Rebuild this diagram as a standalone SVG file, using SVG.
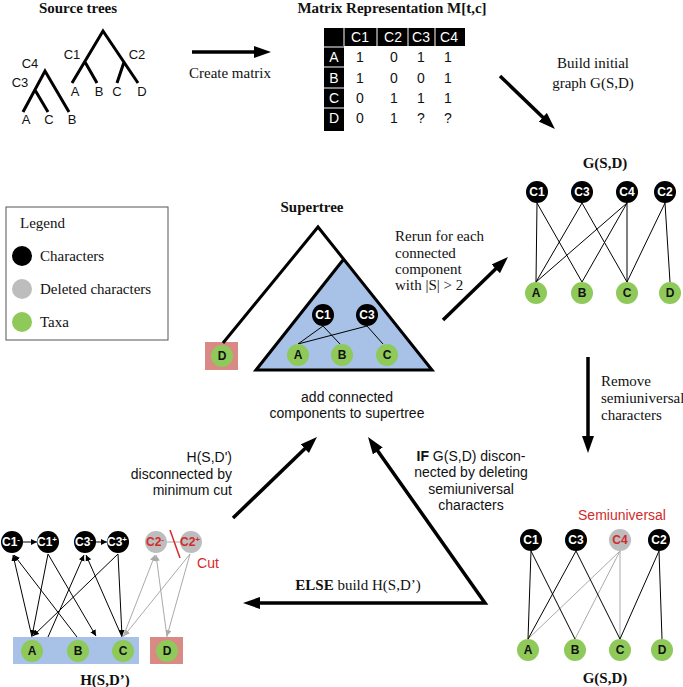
<svg xmlns="http://www.w3.org/2000/svg" width="683" height="687" viewBox="0 0 683 687">
<defs>
<marker id="big" markerUnits="userSpaceOnUse" markerWidth="18" markerHeight="13" refX="8" refY="6" orient="auto-start-reverse"><path d="M0,0 L17,6 L0,12 z" fill="#000"/></marker>
<marker id="sm" markerUnits="userSpaceOnUse" markerWidth="7" markerHeight="7" refX="6" refY="3" orient="auto"><path d="M0,0 L6,3 L0,6 z" fill="#000"/></marker>
<marker id="smg" markerUnits="userSpaceOnUse" markerWidth="7" markerHeight="7" refX="6" refY="3" orient="auto"><path d="M0,0 L6,3 L0,6 z" fill="#aaa"/></marker>
</defs>
<style>
.serif{font-family:"Liberation Serif","Times New Roman",serif;font-size:15px;fill:#111}
.bt{font-family:"Liberation Serif","Times New Roman",serif;font-size:15px;font-weight:bold;fill:#111}
.sans{font-family:"Liberation Sans",Arial,sans-serif;font-size:14px;fill:#111}
.leaf{font-family:"Liberation Sans",Arial,sans-serif;font-size:13px;fill:#111}
.mt{font-family:"Liberation Sans",Arial,sans-serif;font-size:14px;fill:#111;text-anchor:middle}
.mh{font-family:"Liberation Sans",Arial,sans-serif;font-size:14px;fill:#fff;text-anchor:middle}
.red{fill:#d22b2b}
.tree{stroke:#000;stroke-width:3;fill:none}
.arrow{stroke:#000;stroke-width:3.5;fill:none;marker-end:url(#big)}
.ch{fill:#000}
.del{fill:#bdbdbd}
.tx{fill:#8fc95a}
.nl{font-family:"Liberation Sans",Arial,sans-serif;font-size:12px;font-weight:bold;text-anchor:middle;fill:#fff}
.tl{font-family:"Liberation Sans",Arial,sans-serif;font-size:12px;font-weight:bold;text-anchor:middle;fill:#111}
.e{stroke:#000;stroke-width:1;fill:none}
.eg{stroke:#aaa;stroke-width:1;fill:none}
.ea{stroke:#000;stroke-width:1;fill:none;marker-end:url(#sm)}
.eag{stroke:#aaa;stroke-width:1;fill:none;marker-end:url(#smg)}
.blue{fill:#a7c1e7}
.pink{fill:#d98a84}
</style>

<!-- Source trees -->
<g id="source-trees">
<text class="bt" x="78" y="13" text-anchor="middle">Source trees</text>
<path class="tree" d="M23,112 L45,71 L69,112 M35,90 L48,112"/>
<path class="tree" d="M72,83 L103,31 L138,83 M85,62 L97,83 M124,62 L117,83"/>
<text class="leaf" x="30" y="68" text-anchor="middle">C4</text>
<text class="leaf" x="20" y="87" text-anchor="middle">C3</text>
<text class="leaf" x="26" y="124" text-anchor="middle">A</text>
<text class="leaf" x="49" y="124" text-anchor="middle">C</text>
<text class="leaf" x="72" y="124" text-anchor="middle">B</text>
<text class="leaf" x="72" y="59" text-anchor="middle">C1</text>
<text class="leaf" x="137" y="59" text-anchor="middle">C2</text>
<text class="leaf" x="75" y="96" text-anchor="middle">A</text>
<text class="leaf" x="99" y="96" text-anchor="middle">B</text>
<text class="leaf" x="117" y="96" text-anchor="middle">C</text>
<text class="leaf" x="142" y="96" text-anchor="middle">D</text>
</g>

<!-- Matrix -->
<g id="matrix">
<text class="bt" x="392" y="13" text-anchor="middle">Matrix Representation M[t,c]</text>
<rect x="324" y="28" width="141" height="18" fill="#000"/>
<rect x="324" y="28" width="20" height="103" fill="#000"/>
<path d="M344,28 V46 M377,28 V46 M408,28 V46 M435,28 V46 M324,47 H344 M324,67 H344 M324,88 H344 M324,108 H344" stroke="#fff" stroke-width="1"/>
<text class="mh" x="360" y="42">C1</text>
<text class="mh" x="393" y="42">C2</text>
<text class="mh" x="421" y="42">C3</text>
<text class="mh" x="449" y="42">C4</text>
<text class="mh" x="334" y="62">A</text>
<text class="mh" x="334" y="83">B</text>
<text class="mh" x="334" y="103">C</text>
<text class="mh" x="334" y="123">D</text>
<text class="mt" x="360" y="62">1</text><text class="mt" x="394" y="62">0</text><text class="mt" x="421" y="62">1</text><text class="mt" x="448" y="62">1</text>
<text class="mt" x="360" y="83">1</text><text class="mt" x="394" y="83">0</text><text class="mt" x="421" y="83">0</text><text class="mt" x="448" y="83">1</text>
<text class="mt" x="360" y="103">0</text><text class="mt" x="394" y="103">1</text><text class="mt" x="421" y="103">1</text><text class="mt" x="448" y="103">1</text>
<text class="mt" x="360" y="123">0</text><text class="mt" x="394" y="123">1</text><text class="mt" x="421" y="123">?</text><text class="mt" x="448" y="123">?</text>
</g>

<!-- Legend -->
<g id="legend">
<rect x="6" y="207" width="162" height="133" fill="#fff" stroke="#555" stroke-width="1"/>
<text class="serif" x="20" y="228">Legend</text>
<circle cx="22" cy="256" r="10" class="ch"/>
<text class="serif" x="40" y="261">Characters</text>
<circle cx="22" cy="289" r="10" class="del"/>
<text class="serif" x="40" y="294">Deleted characters</text>
<circle cx="22" cy="322" r="10" class="tx"/>
<text class="serif" x="40" y="327">Taxa</text>
</g>

<!-- Connectors (main arrows) -->
<g id="connectors">
<path class="arrow" d="M192,52 L262,52"/>
<path class="arrow" d="M500,76 L548.5,122.8"/>
<path class="arrow" d="M443,320 L501.5,263.3"/>
<path class="arrow" d="M588,357 L588,444"/>
<path class="arrow" d="M233,518 L310.5,443.2"/>
<path class="arrow" d="M373.2,444.4 L485,603 L252,603" style="marker-start:url(#big)" stroke-linejoin="miter"/>
</g>

<!-- Arrow labels -->
<g id="labels">
<text class="serif" x="230" y="78" text-anchor="middle">Create matrix</text>
<text class="serif" x="593" y="68" text-anchor="middle">Build initial</text>
<text class="serif" x="593" y="88" text-anchor="middle">graph G(S,D)</text>
<text class="serif" x="395" y="241">Rerun for each</text>
<text class="serif" x="395" y="258">connected</text>
<text class="serif" x="395" y="274">component</text>
<text class="serif" x="395" y="290">with |S| &gt; 2</text>
<text class="serif" x="601" y="386" font-size="14">Remove</text>
<text class="serif" x="601" y="403" font-size="14">semiuniversal</text>
<text class="serif" x="601" y="420" font-size="14">characters</text>
<text class="sans" x="347" y="402" text-anchor="middle">add connected</text>
<text class="sans" x="347" y="418" text-anchor="middle">components to supertree</text>
<text class="sans" x="471" y="461" text-anchor="middle"><tspan font-weight="bold">IF</tspan> G(S,D) discon-</text>
<text class="sans" x="471" y="477" text-anchor="middle">nected by deleting</text>
<text class="sans" x="471" y="494" text-anchor="middle">semiuniversal</text>
<text class="sans" x="471" y="510" text-anchor="middle">characters</text>
<text class="sans" x="232" y="462" text-anchor="end">H(S,D')</text>
<text class="sans" x="232" y="479" text-anchor="end">disconnected by</text>
<text class="sans" x="232" y="495" text-anchor="end">minimum cut</text>
<text class="serif" x="358" y="590" text-anchor="middle"><tspan font-weight="bold">ELSE</tspan> build H(S,D’)</text>
</g>

<!-- G(S,D) top -->
<g id="graph-top">
<text class="bt" x="605" y="168" text-anchor="middle">G(S,D)</text>
<path class="e" d="M537,203 L536,282 M537,203 L582,282 M582,203 L536,282 M582,203 L627,282 M627,203 L536,282 M627,203 L582,282 M627,203 L627,282 M665,203 L627,282 M665,203 L670,282"/>
<g id="gt-C1"><circle cx="537" cy="192" r="11" class="ch"/><text class="nl" x="537" y="196">C1</text></g>
<g id="gt-C3"><circle cx="582" cy="192" r="11" class="ch"/><text class="nl" x="582" y="196">C3</text></g>
<g id="gt-C4"><circle cx="627" cy="192" r="11" class="ch"/><text class="nl" x="627" y="196">C4</text></g>
<g id="gt-C2"><circle cx="665" cy="192" r="11" class="ch"/><text class="nl" x="665" y="196">C2</text></g>
<g id="gt-A"><circle cx="536" cy="293" r="11" class="tx"/><text class="tl" x="536" y="297">A</text></g>
<g id="gt-B"><circle cx="582" cy="293" r="11" class="tx"/><text class="tl" x="582" y="297">B</text></g>
<g id="gt-C"><circle cx="627" cy="293" r="11" class="tx"/><text class="tl" x="627" y="297">C</text></g>
<g id="gt-D"><circle cx="670" cy="293" r="11" class="tx"/><text class="tl" x="670" y="297">D</text></g>
</g>

<!-- Supertree -->
<g id="supertree">
<text class="bt" x="312" y="212" text-anchor="middle">Supertree</text>
<rect x="205" y="342" width="33" height="28" class="pink"/>
<path d="M343,260 L432,370 L256,370 z" class="blue"/>
<path class="tree" d="M223,343 L318,227 L432,370 L256,370 L343,260" stroke-linejoin="miter"/>
<path class="e" d="M323,326 L298,344 M323,326 L340,344 M367,326 L298,344 M367,326 L383,344"/>
<g id="st-C1"><circle cx="323" cy="315" r="11" class="ch"/><text class="nl" x="323" y="319">C1</text></g>
<g id="st-C3"><circle cx="367" cy="315" r="11" class="ch"/><text class="nl" x="367" y="319">C3</text></g>
<g id="st-A"><circle cx="298" cy="355" r="11" class="tx"/><text class="tl" x="298" y="359">A</text></g>
<g id="st-B"><circle cx="342" cy="355" r="11" class="tx"/><text class="tl" x="342" y="359">B</text></g>
<g id="st-C"><circle cx="387" cy="355" r="11" class="tx"/><text class="tl" x="387" y="359">C</text></g>
<g id="st-D"><circle cx="222" cy="356" r="11" class="tx"/><text class="tl" x="222" y="360">D</text></g>
</g>

<!-- G(S,D) bottom -->
<g id="graph-bottom">
<text class="sans red" x="622" y="520" text-anchor="middle">Semiuniversal</text>
<text class="bt" x="605" y="683" text-anchor="middle">G(S,D)</text>
<path class="eg" d="M620,551 L528,639 M620,551 L575,639 M620,551 L620,639"/>
<path class="e" d="M531,551 L528,639 M531,551 L575,639 M576,551 L528,639 M576,551 L620,639 M659,551 L620,639 M659,551 L662,639"/>
<g id="gb-C1"><circle cx="531" cy="540" r="11" class="ch"/><text class="nl" x="531" y="544">C1</text></g>
<g id="gb-C3"><circle cx="576" cy="540" r="11" class="ch"/><text class="nl" x="576" y="544">C3</text></g>
<g id="gb-C4"><circle cx="620" cy="540" r="11" class="del"/><text class="nl" x="620" y="544" style="fill:#d22b2b">C4</text></g>
<g id="gb-C2"><circle cx="659" cy="540" r="11" class="ch"/><text class="nl" x="659" y="544">C2</text></g>
<g id="gb-A"><circle cx="528" cy="650" r="11" class="tx"/><text class="tl" x="528" y="654">A</text></g>
<g id="gb-B"><circle cx="575" cy="650" r="11" class="tx"/><text class="tl" x="575" y="654">B</text></g>
<g id="gb-C"><circle cx="620" cy="650" r="11" class="tx"/><text class="tl" x="620" y="654">C</text></g>
<g id="gb-D"><circle cx="662" cy="650" r="11" class="tx"/><text class="tl" x="662" y="654">D</text></g>
</g>

<!-- H(S,D') -->
<g id="graph-h">
<rect x="13" y="637" width="126" height="27" class="blue"/>
<rect x="150" y="637" width="33" height="27" class="pink"/>
<text class="bt" x="105" y="685" text-anchor="middle">H(S,D’)</text>
<text class="sans red" x="208" y="568" text-anchor="middle">Cut</text>
<path class="ea" d="M32,637 L13,555"/>
<path class="ea" d="M77,637 L14,555"/>
<path class="ea" d="M48,554 L32,636"/>
<path class="ea" d="M48,554 L96,636"/>
<path class="ea" d="M48,637 L84,555"/>
<path class="ea" d="M122,637 L86,555"/>
<path class="ea" d="M118,554 L33,636"/>
<path class="ea" d="M118,554 L122,636"/>
<path class="ea" d="M23,542 L37,542"/>
<path class="ea" d="M96,542 L107,542"/>
<path class="eag" d="M123,637 L155,555"/>
<path class="eag" d="M167,637 L156,555"/>
<path class="eag" d="M190,554 L124,636"/>
<path class="eag" d="M190,554 L167,636"/>
<path class="eg" d="M167,542 L180,542"/>
<path d="M170,530 L180,558" stroke="#d22b2b" stroke-width="1.5"/>
<g id="h-C1m"><circle cx="12" cy="542" r="11" class="ch"/><text class="nl" x="11" y="546" font-size="11">C1<tspan font-size="8" dy="-4">-</tspan></text></g>
<g id="h-C1p"><circle cx="48" cy="542" r="11" class="ch"/><text class="nl" x="47" y="546" font-size="11">C1<tspan font-size="8" dy="-4">+</tspan></text></g>
<g id="h-C3m"><circle cx="85" cy="542" r="11" class="ch"/><text class="nl" x="84" y="546" font-size="11">C3<tspan font-size="8" dy="-4">-</tspan></text></g>
<g id="h-C3p"><circle cx="118" cy="542" r="11" class="ch"/><text class="nl" x="117" y="546" font-size="11">C3<tspan font-size="8" dy="-4">+</tspan></text></g>
<g id="h-C2m"><circle cx="156" cy="542" r="11" class="del"/><text class="nl" x="155" y="546" font-size="11" style="fill:#d22b2b">C2<tspan font-size="8" dy="-4">-</tspan></text></g>
<g id="h-C2p"><circle cx="191" cy="542" r="11" class="del"/><text class="nl" x="190" y="546" font-size="11" style="fill:#d22b2b">C2<tspan font-size="8" dy="-4">+</tspan></text></g>
<g id="h-A"><circle cx="32" cy="651" r="11" class="tx"/><text class="tl" x="32" y="655">A</text></g>
<g id="h-B"><circle cx="78" cy="651" r="11" class="tx"/><text class="tl" x="78" y="655">B</text></g>
<g id="h-C"><circle cx="123" cy="651" r="11" class="tx"/><text class="tl" x="123" y="655">C</text></g>
<g id="h-D"><circle cx="167" cy="651" r="11" class="tx"/><text class="tl" x="167" y="655">D</text></g>
</g>
</svg>
